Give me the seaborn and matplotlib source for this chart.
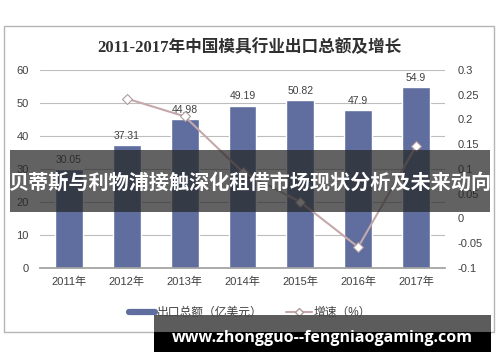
import matplotlib
matplotlib.use("Agg")
import matplotlib.pyplot as plt
import seaborn as sns
import numpy as np
import pandas as pd
from matplotlib.lines import Line2D
from matplotlib.patches import Rectangle

years = ["2011年", "2012年", "2013年", "2014年", "2015年", "2016年", "2017年"]
export_total = [30.05, 37.31, 44.98, 49.19, 50.82, 47.9, 54.9]
growth_years = ["2012年", "2013年", "2014年", "2015年", "2016年", "2017年"]
growth = [0.242, 0.206, 0.094, 0.033, -0.058, 0.146]
left_ticks = [0, 10, 20, 30, 40, 50, 60]
right_ticks = [-0.1, -0.05, 0, 0.05, 0.1, 0.15, 0.2, 0.25, 0.3]
right_labels = ["-0.1", "-0.05", "0", "0.05", "0.1", "0.15", "0.2", "0.25", "0.3"]
title = "2011-2017年中国模具行业出口总额及增长"
legend_labels = ["出口总额（亿美元）", "增速（%）"]
banner = "贝蒂斯与利物浦接触深化租借市场现状分析及未来动向"
watermark = "www.zhongguo--fengniaogaming.com"

sns.set_theme(style="white")
plt.rcParams["font.family"] = ["Liberation Sans", "Noto Sans CJK SC"]

bar_color = "#5f6e9e"
line_color = "#c4a8ab"
text_color = "#404040"

fig = plt.figure(figsize=(5, 3.62), dpi=100)
fig.patch.set_facecolor("white")
ax = fig.add_axes([0.08, 0.26, 0.81, 0.547])

df = pd.DataFrame({"year": years, "value": export_total})
sns.barplot(data=df, x="year", y="value", order=years, color=bar_color,
            width=0.48, saturation=1, ax=ax, zorder=2)
for c in ax.containers:
    ax.bar_label(c, labels=[f"{v:g}" for v in export_total], padding=3,
                 fontsize=7.5, color=text_color)

ax.set_ylim(0, 60)
ax.set_yticks(left_ticks)
ax.set_xlim(-0.5, 6.5)
ax.yaxis.grid(True, color="#bdbdbd", lw=0.8, zorder=0)
ax.set_axisbelow(True)
for s in ["top", "right", "left"]:
    ax.spines[s].set_visible(False)
ax.spines["bottom"].set_color("#a0a0a0")
ax.tick_params(axis="y", length=0, pad=8, labelsize=8, labelcolor=text_color)
ax.tick_params(axis="x", length=0, pad=6, labelsize=8, labelcolor=text_color)
ax.set_xticks(np.arange(-0.5, 7.0, 1.0), minor=True)
ax.tick_params(axis="x", which="minor", length=3.5, color="#a0a0a0", direction="out")
ax.set_xlabel("")
ax.set_ylabel("")

ax2 = ax.twinx()
gdf = pd.DataFrame({"year": growth_years, "g": growth})
sns.pointplot(data=gdf, x="year", y="g", order=years, color=line_color,
              markers="D", errorbar=None, ax=ax2, linewidth=1.5,
              markersize=5, markerfacecolor="white",
              markeredgecolor="#b09a9c", markeredgewidth=0.8)
ax2.set_ylim(-0.1, 0.3)
ax2.set_yticks(right_ticks)
ax2.set_yticklabels(right_labels)
ax2.set_xlim(-0.5, 6.5)
for s in ax2.spines.values():
    s.set_visible(False)
ax2.tick_params(axis="y", length=0, pad=9, labelsize=8, labelcolor=text_color)
ax2.set_ylabel("")
ax2.set_xlabel("")

fig.text(0.498, 1 - 48 / 362, title, ha="center", va="center", fontsize=12,
         fontweight="bold", color="#303030",
         family=["Liberation Serif", "Noto Sans CJK SC"])

handles = [Line2D([], [], color=bar_color, lw=4.5),
           Line2D([], [], color=line_color, lw=1.5, marker="D", markersize=4,
                  markerfacecolor="white", markeredgecolor="#b09a9c")]
fig.legend(handles, legend_labels, loc="center", bbox_to_anchor=(0.5, 1 - 313 / 362),
           ncol=2, frameon=False, fontsize=8.5, handlelength=2.2,
           handletextpad=0.1, columnspacing=2.0, labelcolor=text_color)

# outer frame
fig.add_artist(Rectangle((4 / 500, 1 - 332 / 362), 490 / 500, 306 / 362,
                         transform=fig.transFigure, fill=False,
                         edgecolor="#b5b5b5", lw=1.0, zorder=0))

# overlay banner
fig.add_artist(Rectangle((10 / 500, 1 - 212 / 362), 480 / 500, 62 / 362,
                         transform=fig.transFigure, facecolor="#262626",
                         alpha=0.72, edgecolor="none", zorder=10))
fig.text(0.5, 1 - 182 / 362, banner, ha="center", va="center", fontsize=14.5,
         fontweight="bold", color="white", family=["Noto Sans CJK SC"], zorder=11)

# watermark
fig.add_artist(Rectangle((154 / 500, 1 - 332 / 362), 337 / 500, 17 / 362,
                         transform=fig.transFigure, facecolor="#4a4a4a",
                         alpha=0.9, edgecolor="none", zorder=10))
fig.add_artist(Rectangle((154 / 500, 1 - 352 / 362), 337 / 500, 20 / 362,
                         transform=fig.transFigure, facecolor="black",
                         edgecolor="none", zorder=10))
fig.text(322 / 500, 1 - 338 / 362, watermark, ha="center", va="center",
         fontsize=11.5, fontweight="bold", color="white",
         family=["Open Sans", "DejaVu Sans"], zorder=11)

fig.savefig("out.png", dpi=100, facecolor="white")
